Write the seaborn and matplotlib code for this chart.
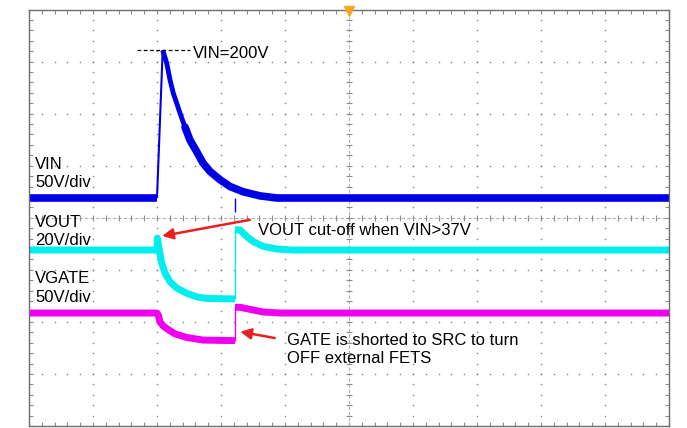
import numpy as np
import matplotlib
matplotlib.use('Agg')
import matplotlib.pyplot as plt
import pandas as pd
import seaborn as sns

# screen coordinates in scope divisions: x 0..10, y -4..4 (0 = centre line)
VIN_BASE_T = [0.0, 2.0]
VIN_BASE = [0.38, 0.38]
VIN_EDGE_T = [2.0, 2.089]
VIN_EDGE = [0.38, 3.22]
VIN_DECAY_T = [2.089, 2.152, 2.203, 2.255, 2.308, 2.359, 2.438, 2.516, 2.620,
               2.719, 2.828, 2.984, 3.141, 3.344, 3.609, 3.870, 10.0]
VIN_DECAY = [3.22, 2.97, 2.65, 2.39, 2.20, 2.01, 1.74, 1.49, 1.27,
             1.05, 0.89, 0.73, 0.60, 0.50, 0.42, 0.38, 0.38]
VIN_GLITCH_T = [3.22, 3.22]
VIN_GLITCH = [0.38, 0.11]

VOUT_A_T = [0.0, 2.0, 2.005, 2.036, 2.073, 2.125, 2.203, 2.308, 2.464, 2.620,
            2.776, 3.219]
VOUT_A = [-0.62, -0.62, -0.39, -0.62, -0.87, -1.06, -1.23, -1.35, -1.45, -1.52,
          -1.55, -1.56]
VOUT_EDGE_T = [3.219, 3.219]
VOUT_EDGE = [-1.56, -0.23]
VOUT_B_T = [3.219, 3.297, 3.402, 3.505, 3.661, 3.870, 4.125, 10.0]
VOUT_B = [-0.23, -0.235, -0.36, -0.46, -0.55, -0.60, -0.62, -0.62]

VGATE_A_T = [0.0, 2.0, 2.020, 2.047, 2.098, 2.177, 2.281, 2.464, 2.723, 3.219]
VGATE_A = [-1.83, -1.83, -1.87, -2.00, -2.08, -2.15, -2.23, -2.30, -2.35, -2.36]
VGATE_EDGE_T = [3.219, 3.219]
VGATE_EDGE = [-2.36, -1.72]
VGATE_B_T = [3.219, 3.297, 3.656, 3.922, 10.0]
VGATE_B = [-1.72, -1.72, -1.81, -1.83, -1.83]

BLUE = '#0000e6'
CYAN = '#00eeee'
MAGENTA = '#f000f0'
RED = '#e82020'
GRID = '#8c8c8c'


def trace(ax, t, v, color, lw, cap='butt'):
    df = pd.DataFrame({'t': t, 'v': v})
    sns.lineplot(data=df, x='t', y='v', ax=ax, color=color, lw=lw,
                 sort=False, estimator=None, solid_capstyle=cap,
                 solid_joinstyle='round')


fig = plt.figure(figsize=(6.87, 4.28), dpi=100)
ax = fig.add_axes([29 / 687, 2 / 428, 640 / 687, 416.5 / 428])
ax.set_xlim(0, 10)
ax.set_ylim(-4, 4)

# graticule: dotted grid made of dots at the minor positions
minor_x = np.arange(0, 10.01, 0.2)
minor_y = np.arange(-4, 4.01, 0.2)
for gx in range(1, 10):
    if gx == 5:
        continue
    ax.plot(np.full_like(minor_y, gx), minor_y, ls='none', marker='o', ms=1.2,
            color=GRID, mew=0)
for gy in range(-3, 4):
    if gy == 0:
        continue
    ax.plot(minor_x, np.full_like(minor_x, gy), ls='none', marker='o', ms=1.2,
            color=GRID, mew=0)
# centre crosshair with ticks
ax.axhline(0, color='#b0b0b0', lw=0.8, ls=(0, (3, 2)))
ax.axvline(5, color='#b0b0b0', lw=0.8, ls=(0, (3, 2)))
ax.plot(minor_x, np.zeros_like(minor_x), ls='none', marker='|', ms=4,
        color=GRID, mew=0.8)
ax.plot(np.full_like(minor_y, 5), minor_y, ls='none', marker='_', ms=4,
        color=GRID, mew=0.8)

# traces
trace(ax, VIN_BASE_T, VIN_BASE, BLUE, 5.5)
trace(ax, VIN_EDGE_T, VIN_EDGE, BLUE, 1.5)
trace(ax, VIN_DECAY_T[:8], VIN_DECAY[:8], BLUE, 3.5)
trace(ax, VIN_DECAY_T[6:-1], VIN_DECAY[6:-1], BLUE, 5.5, cap='round')
trace(ax, VIN_DECAY_T[-2:], VIN_DECAY[-2:], BLUE, 5.5)
trace(ax, VIN_GLITCH_T, VIN_GLITCH, BLUE, 1.0)

trace(ax, VOUT_A_T, VOUT_A, CYAN, 5.0)
trace(ax, VOUT_EDGE_T, VOUT_EDGE, CYAN, 1.0)
trace(ax, VOUT_B_T, VOUT_B, CYAN, 5.0)

trace(ax, VGATE_A_T, VGATE_A, MAGENTA, 5.0)
trace(ax, VGATE_EDGE_T, VGATE_EDGE, MAGENTA, 1.0)
trace(ax, VGATE_B_T, VGATE_B, MAGENTA, 5.0)

# trigger marker
ax.plot([5], [3.97], marker='v', ms=7, color='#f5a623', clip_on=False, zorder=5)

# labels
font = dict(family=['Liberation Sans', 'DejaVu Sans'], fontsize=12, color='black')
ax.text(0.094, 0.94, 'VIN', **font)
ax.text(0.094, 0.59, '50V/div', **font)
ax.text(0.094, -0.18, 'VOUT', **font)
ax.text(0.094, -0.52, '20V/div', **font)
ax.text(0.094, -1.25, 'VGATE', **font)
ax.text(0.094, -1.62, '50V/div', **font)

ax.plot([1.69, 2.52], [3.22, 3.22], color='black', lw=0.9, ls=(0, (3, 2)))
ax.text(2.56, 3.07, 'VIN=200V', **font)
ax.text(3.58, -0.33, 'VOUT cut-off when VIN>37V', **font)
ax.text(4.03, -2.44, 'GATE is shorted to SRC to turn', **font)
ax.text(4.03, -2.79, 'OFF external FETS', **font)

arrow = dict(arrowstyle='-|>', color=RED, lw=1.8, mutation_scale=16,
             shrinkA=0, shrinkB=0)
ax.annotate('', xy=(2.08, -0.35), xytext=(3.45, -0.04), arrowprops=arrow)
ax.annotate('', xy=(3.30, -2.19), xytext=(3.84, -2.31), arrowprops=arrow)

# frame and edge ticks
ax.set_xticks(minor_x)
ax.set_yticks(minor_y)
ax.tick_params(direction='in', length=3, width=0.8, color=GRID,
               top=True, right=True, labelbottom=False, labelleft=False)
for s in ax.spines.values():
    s.set_color('#6e6e6e')
    s.set_linewidth(1.0)
ax.set_xlabel('')
ax.set_ylabel('')

fig.savefig('out.png', dpi=100)
